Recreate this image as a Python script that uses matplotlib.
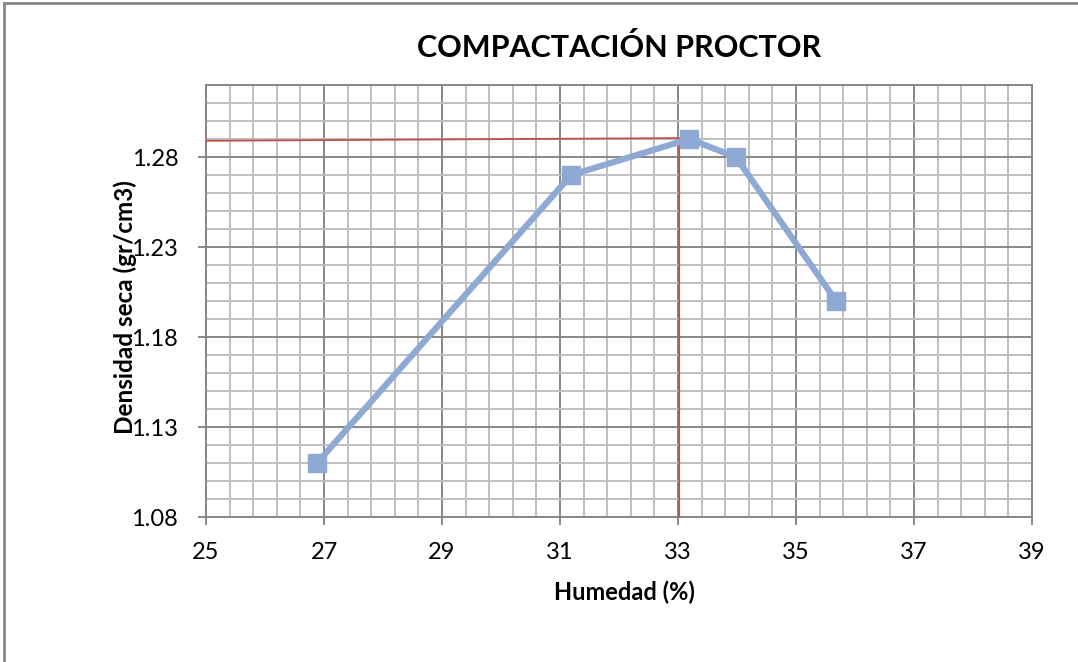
import numpy as np
import matplotlib.pyplot as plt

# datos del ensayo proctor
humedad = [26.88, 31.19, 33.19, 33.98, 35.68]
densidad = [1.11, 1.27, 1.29, 1.28, 1.20]

# lineas de lectura del optimo
linea_x = [25, 33.02, 33.02]
linea_y = [1.289, 1.2905, 1.08]

x_ticks = [25, 27, 29, 31, 33, 35, 37, 39]
y_ticks = [1.08, 1.13, 1.18, 1.23, 1.28]

azul = "#8EA9D3"
rojo = "#C0504D"

plt.rcParams['font.family'] = ['Lato', 'DejaVu Sans']

fig = plt.figure(figsize=(10.78, 6.62), dpi=100)
ax = fig.add_axes([206/1078, 1-517/662, 826/1078, 432/662])

ax.plot(linea_x, linea_y, color=rojo, lw=1.3, zorder=3)
ax.plot(humedad, densidad, color=azul, lw=4.5, marker="s", markersize=13,
        markerfacecolor=azul, markeredgecolor=azul, zorder=4)

ax.set_xlim(25, 39)
ax.set_ylim(1.08, 1.32)
ax.set_xticks(x_ticks)
ax.set_xticks(np.linspace(25, 39, 36), minor=True)
ax.set_yticks(y_ticks)
ax.set_yticks(np.linspace(1.08, 1.32, 25), minor=True)
ax.yaxis.set_major_formatter(plt.FormatStrFormatter("%.2f"))

ax.grid(which="minor", color="#BFBFBF", lw=1.4, zorder=0)
ax.grid(which="major", color="#878787", lw=1.4, zorder=1)
ax.set_axisbelow(True)
for s in ax.spines.values():
    s.set_color("#878787")
    s.set_linewidth(1.4)
ax.tick_params(which="major", length=6, color="#878787", width=1.4, labelsize=17)
ax.tick_params(axis="x", pad=12)
ax.tick_params(axis="y", pad=14)
ax.tick_params(which="minor", length=0)

ax.set_title("COMPACTACIÓN PROCTOR", fontsize=22, fontweight="bold", pad=20)
ax.set_xlabel("Humedad (%)", fontsize=17, fontweight="bold")
ax.set_ylabel("Densidad seca (gr/cm3)", fontsize=17.5, fontweight="bold")
ax.xaxis.set_label_coords(0.507, -0.146)
ax.yaxis.set_label_coords(-0.084, 0.486)

# borde del grafico
fig.add_artist(plt.Line2D([4/1078, 4/1078], [0, 1-3/662], color="#878787", lw=2))
fig.add_artist(plt.Line2D([4/1078, 1], [1-3/662, 1-3/662], color="#878787", lw=2))

plt.savefig("out.png")
